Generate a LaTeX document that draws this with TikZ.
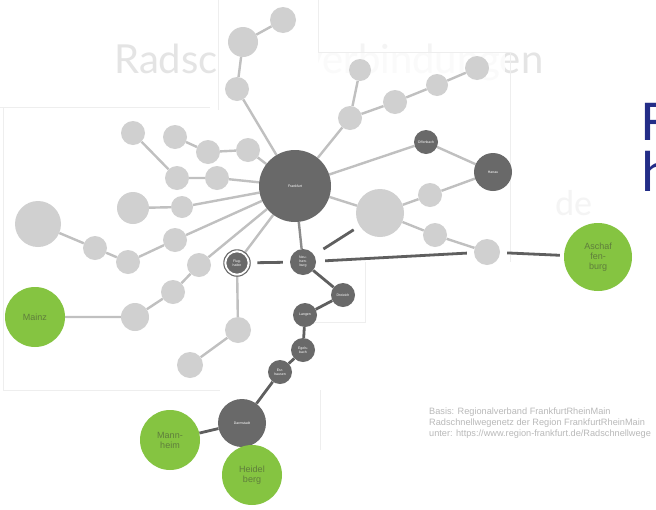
\documentclass[tikz,border=0pt]{standalone}
\usepackage{fontspec}
\setmainfont{Liberation Sans}
\newfontfamily\carl{Carlito}
\newfontfamily\latof{Lato}
\pgfdeclarelayer{back}
\pgfdeclarelayer{edges}
\pgfsetlayers{back,edges,main}
\definecolor{lightc}{RGB}{208,208,208}
\definecolor{darkc}{RGB}{105,105,105}
\definecolor{greenc}{RGB}{133,196,65}
\definecolor{gtext}{RGB}{95,125,60}
\definecolor{ledgec}{RGB}{192,192,192}
\definecolor{dedgec}{RGB}{95,95,95}
\definecolor{medgec}{RGB}{140,140,140}
\definecolor{bluec}{RGB}{35,45,135}
\definecolor{panelc}{RGB}{238,238,238}
\definecolor{titlec}{RGB}{228,228,228}
\begin{document}
\begin{tikzpicture}[x=1pt,y=-1pt,
  nd/.style={circle, inner sep=0pt, align=center, font=\fontsize{3.5}{4}\selectfont},
  lnode/.style={nd, fill=lightc, text=white},
  dnode/.style={nd, fill=darkc, text=white},
  gnode/.style={nd, fill=greenc, text=gtext, font=\fontsize{9}{10}\selectfont},
  ringnode/.style={dnode, draw=white, line width=1.6pt},
  ringline/.style={draw=darkc, line width=1.1pt},
  ledge/.style={draw=ledgec, line width=2.4pt},
  medge/.style={draw=medgec, line width=2.4pt},
  dedge/.style={draw=dedgec, line width=2.8pt},
  panel/.style={draw=panelc, line width=0.6pt},
  titletext/.style={text=titlec, font=\latof\fontsize{40}{42}\selectfont, inner sep=0pt},
  bluetext/.style={text=bluec, font=\carl\fontsize{58}{60}\selectfont, inner sep=0pt},
  srctext/.style={text=gray!55, font=\fontsize{9.2}{11}\selectfont, align=left, inner sep=0pt}
]
\useasboundingbox (0,0) rectangle (656,509);

% ---------------- background: title and panels
\begin{pgfonlayer}{back}
\fill[white] (0,0) rectangle (656,509);
\node[titletext, anchor=base west] (title) at (114,73) {Radschnellverbindungen};
\node[titletext, anchor=base west, font=\latof\fontsize{34}{36}\selectfont] (de) at (555,215) {de};
\fill[white] (218,0) rectangle (318,110);
\fill[white, opacity=0.82] (318,52) rectangle (505,262);
\fill[white, opacity=0.6] (318,20) rectangle (505,52);
\fill[white] (5,107) rectangle (215,390);
\fill[white] (215,110) rectangle (320,450);
\fill[white, opacity=0.6] (540,185) rectangle (600,220);
\draw[panel] (218,0) -- (218,110);
\draw[panel] (318,0) -- (318,52) -- (510,52) -- (510,262);
\draw[panel] (0,107) -- (210,107);
\draw[panel] (3,107) -- (3,390) -- (220,390);
\draw[panel] (320,390) -- (320,450);
\draw[panel] (300,322) -- (365,322) -- (365,262);
\end{pgfonlayer}

% ---------------- nodes
\node[dnode, minimum size=72] (F) at (295,186) {Frankfurt};

\node[lnode, minimum size=24] (t1) at (237,89) {};
\node[lnode, minimum size=30] (t2) at (243,42) {};
\node[lnode, minimum size=26] (t3) at (283,20) {};

\node[lnode, minimum size=24] (a1) at (133,133) {};
\node[lnode, minimum size=24] (a2) at (175,137) {};
\node[lnode, minimum size=24] (a3) at (208,152) {};
\node[lnode, minimum size=24] (a4) at (248,150) {};
\node[lnode, minimum size=24] (a5) at (177,178) {};
\node[lnode, minimum size=24] (a6) at (217,178) {};

\node[lnode, minimum size=32] (b1) at (133,208) {};
\node[lnode, minimum size=22] (b2) at (182,207) {};

\node[lnode, minimum size=46] (c1) at (38,224) {};
\node[lnode, minimum size=24] (c2) at (95,248) {};
\node[lnode, minimum size=24] (c3) at (128,262) {};
\node[lnode, minimum size=24] (c4) at (175,240) {};

\node[gnode, minimum size=60] (MZ) at (35,317) {Mainz};
\node[lnode, minimum size=28] (m1) at (135,317) {};
\node[lnode, minimum size=24] (m2) at (173,292) {};
\node[lnode, minimum size=24] (m3) at (199,265) {};

\node[ringnode, minimum size=23] (FH) at (237,263) {Flug-\\hafen};
\draw[ringline] (FH.center) circle (13.2);
\node[lnode, minimum size=26] (f1) at (238,330) {};
\node[lnode, minimum size=26] (f2) at (190,365) {};

\node[dnode, minimum size=26] (S1) at (303,262) {Neu-\\Isen-\\burg};
\node[dnode, minimum size=24] (S2) at (343,295) {Dreieich};
\node[dnode, minimum size=24] (S3) at (305,315) {Langen};
\node[dnode, minimum size=24] (S4) at (303,350) {Egels-\\bach};
\node[dnode, minimum size=24] (S5) at (280,372) {Erz-\\hausen};
\node[dnode, minimum size=48] (DA) at (242,423) {Darmstadt};

\node[gnode, minimum size=60] (MA) at (170,440) {Mann-\\heim};
\node[gnode, minimum size=60] (HD) at (252,475) {Heidel\\berg};

\node[dnode, minimum size=24] (OF) at (426,142) {Offenbach};
\node[dnode, minimum size=38] (HU) at (493,172) {Hanau};
\node[lnode, minimum size=24] (r1) at (430,195) {};
\node[lnode, minimum size=48] (r2) at (380,213) {};
\node[lnode, minimum size=24] (r3) at (435,235) {};
\node[lnode, minimum size=26] (r4) at (487,252) {};

\node[gnode, minimum size=68] (AB) at (598,257) {Aschaf\\fen-\\burg};

\node[lnode, minimum size=22] (u1) at (360,70) {};
\node[lnode, minimum size=24] (u2) at (350,118) {};
\node[lnode, minimum size=24] (u3) at (395,102) {};
\node[lnode, minimum size=22] (u4) at (437,85) {};
\node[lnode, minimum size=24] (u5) at (477,68) {};

% ---------------- connectors
\begin{pgfonlayer}{edges}
\draw[ledge] (F) -- (t1) -- (t2) -- (t3);
\draw[ledge] (a1) -- (a5) -- (a6) -- (F);
\draw[ledge] (a2) -- (a3) -- (a4) -- (F);
\draw[ledge] (b1) -- (b2) -- (F);
\draw[ledge] (c1) -- (c2) -- (c3) -- (c4) -- (F);
\draw[ledge] (MZ) -- (m1) -- (m2) -- (m3) -- (F);
\draw[ledge] (F) -- (FH) -- (f1) -- (f2);
\draw[medge] (F) -- (S1);
\draw[ledge] (F) -- (u2) -- (u1);
\draw[ledge] (u2) -- (u3) -- (u4) -- (u5);
\draw[ledge] (F) -- (OF) -- (HU) -- (r1) -- (r2) -- (F);
\draw[ledge] (r2) -- (r3) -- (r4);
\draw[dedge] (S1) -- (S2) -- (S3) -- (S4) -- (S5) -- (DA) -- (MA);
\draw[dedge, shorten <=8pt, shorten >=7pt] (FH) -- (S1);
\draw[dedge, shorten <=9pt, shorten >=7pt] (S1) -- (r4);
\draw[dedge, shorten <=7pt, shorten >=4pt] (r4) -- (AB);
\draw[dedge, shorten <=11pt, shorten >=7pt] (S1) -- (r2);
\end{pgfonlayer}

% ---------------- right-hand texts
\node[bluetext, anchor=base west] (blue1) at (641,140) {F};
\node[bluetext, anchor=base west] (blue2) at (641,191) {h};

\node[srctext, anchor=north west] (src) at (429,408) {Basis: Regionalverband FrankfurtRheinMain\\Radschnellwegenetz der Region FrankfurtRheinMain\\unter: https://www.region-frankfurt.de/Radschnellwege};
\end{tikzpicture}
\end{document}
